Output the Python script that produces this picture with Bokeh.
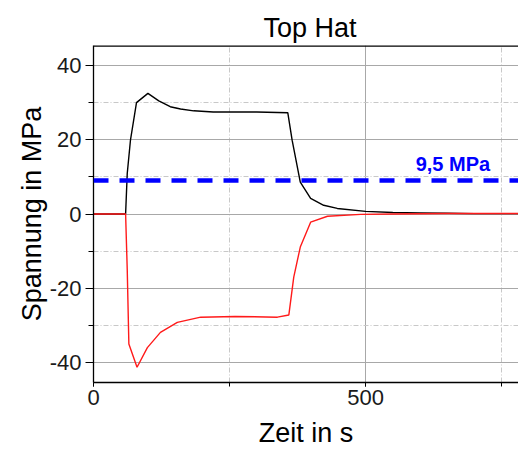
from bokeh.plotting import figure
from bokeh.models import SingleIntervalTicker, Span, Label, Range1d
from bokeh.embed import file_html
from bokeh.resources import INLINE

# ---- data ----
t_top = [0, 59, 62, 68, 79, 100, 120, 141, 160, 184, 220, 300, 357, 365, 380,
         399, 423, 448, 500, 550, 600, 650, 700, 781]
s_top = [0, 0, 10.9, 20, 30, 32.5, 30.5, 28.9, 28.3, 27.8, 27.5, 27.5, 27.3,
         19.9, 8.6, 4.2, 2.35, 1.5, 0.7, 0.4, 0.3, 0.2, 0.1, 0.1]

t_bot = [0, 59, 62, 65, 80, 99, 123, 154, 197, 260, 338, 359, 368, 380, 399,
         430, 491, 550, 650, 781]
s_bot = [0, 0, -15, -35, -41.3, -36, -31.9, -29.2, -27.8, -27.6, -27.8, -27.2,
         -17, -8.9, -2.2, -0.6, -0.1, 0.0, 0.15, 0.15]

limit_value = 9.0
limit_label = "9,5 MPa"
limit_label_pos = (592, 13.6)

y_tick_labels = {-40: "-40", -20: "-20", 0: "0", 20: "20", 40: "40"}

title_text = "Top Hat"
x_label = "Zeit in s"
y_label = "Spannung in MPa"

X_MAX = 781
Y_MIN, Y_MAX = -45.4, 45.4

FONT = "Liberation Sans"

p = figure(width=518, height=451,
           x_range=Range1d(0, X_MAX), y_range=Range1d(Y_MIN, Y_MAX),
           output_backend="svg", toolbar_location=None,
           min_border_left=93, min_border_right=0,
           min_border_top=45, min_border_bottom=69)

p.background_fill_color = "white"
p.border_fill_color = "white"
p.outline_line_color = None

# title
p.title.text = title_text
p.title.text_font = FONT
p.title.text_font_size = "27px"
p.title.text_font_style = "normal"
p.title.text_color = "black"
p.title.align = "left"
p.title.vertical_align = "top"
p.title.offset = 170
p.title.standoff = 1

# axes
p.xaxis.ticker = SingleIntervalTicker(interval=500, num_minor_ticks=2)
p.yaxis.ticker = SingleIntervalTicker(interval=20, num_minor_ticks=2)

for ax in (p.xaxis[0], p.yaxis[0]):
    ax.axis_line_color = "black"
    ax.axis_line_width = 1.3
    ax.major_tick_line_color = "black"
    ax.minor_tick_line_color = "black"
    ax.major_tick_in = 0
    ax.minor_tick_in = 0
    ax.major_label_text_font = FONT
    ax.major_label_text_font_size = "22px"
    ax.major_label_text_color = "#1a1a1a"
    ax.axis_label_text_font = FONT
    ax.axis_label_text_font_size = "27px"
    ax.axis_label_text_font_style = "normal"
    ax.axis_label_text_color = "black"

p.xaxis.axis_label = x_label
p.yaxis.axis_label = y_label
p.yaxis.major_label_overrides = y_tick_labels
p.xaxis.major_tick_out = 4
p.xaxis.minor_tick_out = 4
p.xaxis.major_label_standoff = 3
p.xaxis.axis_label_standoff = 10
p.yaxis.major_tick_out = 8
p.yaxis.minor_tick_out = 5
p.yaxis.major_label_standoff = 4
p.yaxis.axis_label_standoff = 0

# top border of the frame
p.add_layout(Span(location=Y_MAX, dimension="width", line_color="black",
                  line_width=2.6))

# grids
p.xgrid.grid_line_color = "#a8a8a8"
p.ygrid.grid_line_color = "#a8a8a8"
p.xgrid.grid_line_width = 1
p.ygrid.grid_line_width = 1
p.xgrid.minor_grid_line_color = "#c8c8c8"
p.ygrid.minor_grid_line_color = "#c8c8c8"
p.xgrid.minor_grid_line_dash = "5 2 1 2"
p.ygrid.minor_grid_line_dash = "5 2 1 2"

# data
p.line(t_top, s_top, line_color="black", line_width=1.4)
p.line(t_bot, s_bot, line_color="#ff1a1a", line_width=1.4)

p.add_layout(Span(location=limit_value, dimension="width", line_color="#0000ff",
                  line_width=4.5, line_dash="15 11"))
p.add_layout(Label(x=limit_label_pos[0], y=limit_label_pos[1], text=limit_label,
                   text_font=FONT, text_font_size="20px", text_font_style="bold",
                   text_color="#0000ff", text_baseline="alphabetic"))

open("out.html", "w").write(file_html(p, INLINE))
